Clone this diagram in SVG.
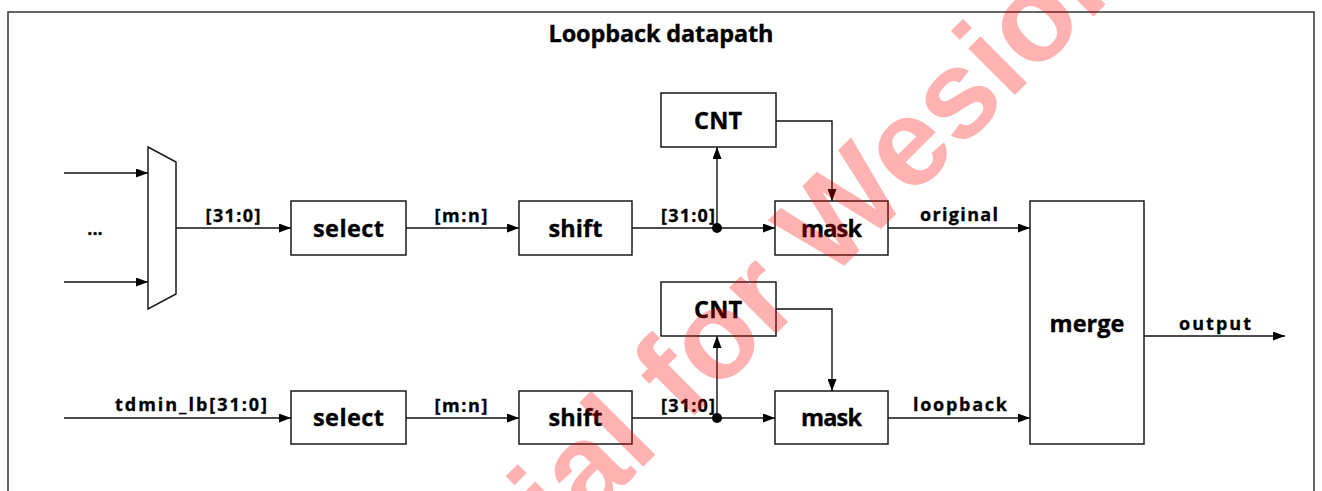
<svg xmlns="http://www.w3.org/2000/svg" width="1322" height="491" viewBox="0 0 1322 491">
<style>
.box{fill:#fff;stroke:#1a1a1a;stroke-width:1.5}
.ln{fill:none;stroke:#111;stroke-width:1.4}
.lbl{font-family:"Open Sans","DejaVu Sans",sans-serif;font-weight:bold;font-size:23.5px;fill:#000;stroke:#000;stroke-width:0.35;text-anchor:middle}
.sm{font-family:"Open Sans","DejaVu Sans",sans-serif;font-weight:bold;font-size:18px;fill:#000;stroke:#000;stroke-width:0.3;text-anchor:middle}
.wm{font-family:"Liberation Sans",Arial,sans-serif;font-weight:bold;font-size:125px;fill:#FF0000;fill-opacity:0.3}
</style>
<defs>
<marker id="arr" markerUnits="userSpaceOnUse" markerWidth="12" markerHeight="9" refX="12" refY="4.5" orient="auto" viewBox="0 0 12 9">
<path d="M0,0 L12,4.5 L0,9 z" fill="#000"/>
</marker>
</defs>
<rect width="1322" height="491" fill="#fff"/>
<path d="M8,500 V12 H1314 V500" fill="none" stroke="#333" stroke-width="1.5"/>
<text class="lbl" x="661" y="42" font-size="22.5" textLength="225" lengthAdjust="spacing">Loopback datapath</text>

<g id="connectors">
<path class="ln" d="M64,173 H148" marker-end="url(#arr)"/>
<path class="ln" d="M64,282 H148" marker-end="url(#arr)"/>
<path class="ln" d="M176,228 H291" marker-end="url(#arr)"/>
<path class="ln" d="M406,228 H519" marker-end="url(#arr)"/>
<path class="ln" d="M632,228 H775" marker-end="url(#arr)"/>
<path class="ln" d="M717,228 V147" marker-end="url(#arr)"/>
<path class="ln" d="M776,121 H832 V201" marker-end="url(#arr)"/>
<path class="ln" d="M888,228 H1030" marker-end="url(#arr)"/>
<path class="ln" d="M64,418 H291" marker-end="url(#arr)"/>
<path class="ln" d="M406,418 H519" marker-end="url(#arr)"/>
<path class="ln" d="M632,418 H775" marker-end="url(#arr)"/>
<path class="ln" d="M717,418 V336" marker-end="url(#arr)"/>
<path class="ln" d="M776,309 H832 V391" marker-end="url(#arr)"/>
<path class="ln" d="M888,418 H1030" marker-end="url(#arr)"/>
<path class="ln" d="M1144,336 H1285" marker-end="url(#arr)"/>
<circle cx="717" cy="228" r="5" fill="#000"/>
<circle cx="717" cy="418" r="5" fill="#000"/>
<text class="sm" x="95" y="235">...</text>
<text class="sm" x="233" y="222" textLength="55" lengthAdjust="spacing">[31:0]</text>
<text class="sm" x="461" y="222" textLength="53" lengthAdjust="spacing">[m:n]</text>
<text class="sm" x="688" y="222" textLength="54" lengthAdjust="spacing">[31:0]</text>
<text class="sm" x="959" y="221" textLength="78" lengthAdjust="spacing">original</text>
<text class="sm" x="191" y="411" textLength="152" lengthAdjust="spacing">tdmin_lb[31:0]</text>
<text class="sm" x="461" y="412" textLength="53" lengthAdjust="spacing">[m:n]</text>
<text class="sm" x="688" y="412" textLength="54" lengthAdjust="spacing">[31:0]</text>
<text class="sm" x="960" y="411" textLength="94" lengthAdjust="spacing">loopback</text>
<text class="sm" x="1215" y="330" textLength="72" lengthAdjust="spacing">output</text>
</g>

<g id="mux"><polygon class="box" points="148,147 176,162 176,294 148,309"/></g>
<g id="select1"><rect class="box" x="291" y="201" width="115" height="54"/><text class="lbl" x="348.5" y="237" textLength="71" lengthAdjust="spacing">select</text></g>
<g id="shift1"><rect class="box" x="519" y="201" width="113" height="54"/><text class="lbl" x="575.5" y="237" textLength="54" lengthAdjust="spacing">shift</text></g>
<g id="cnt1"><rect class="box" x="661" y="93" width="115" height="54"/><text class="lbl" x="718" y="129" textLength="48" lengthAdjust="spacing">CNT</text></g>
<g id="mask1"><rect class="box" x="775" y="201" width="113" height="54"/><text class="lbl" x="831.5" y="237" textLength="61" lengthAdjust="spacing">mask</text></g>
<g id="select2"><rect class="box" x="291" y="391" width="115" height="53"/><text class="lbl" x="348.5" y="426" textLength="71" lengthAdjust="spacing">select</text></g>
<g id="shift2"><rect class="box" x="519" y="391" width="113" height="53"/><text class="lbl" x="575.5" y="426" textLength="54" lengthAdjust="spacing">shift</text></g>
<g id="cnt2"><rect class="box" x="661" y="282" width="115" height="54"/><text class="lbl" x="718" y="318" textLength="48" lengthAdjust="spacing">CNT</text></g>
<g id="mask2"><rect class="box" x="775" y="391" width="113" height="53"/><text class="lbl" x="831.5" y="426" textLength="61" lengthAdjust="spacing">mask</text></g>
<g id="merge"><rect class="box" x="1030" y="201" width="114" height="243"/><text class="lbl" x="1087" y="332" textLength="75" lengthAdjust="spacing">merge</text></g>

<text class="wm" transform="translate(151,959) rotate(-45)">Confidential for Wesion</text>
</svg>
